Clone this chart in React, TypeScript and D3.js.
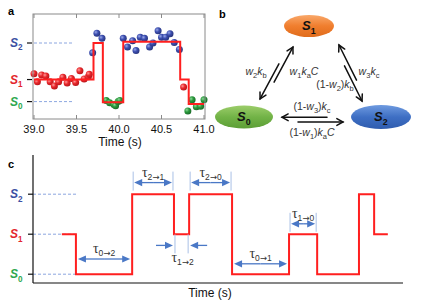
import React from 'react';
import * as d3 from 'd3';

// ---------- Panel a data ----------
const aTicks = [39.0, 39.5, 40.0, 40.5, 41.0];
const aStepT = [39.0, 39.70, 39.81, 40.05, 40.72, 40.82, 41.0];
const aStepV = [0.37, 1.0, -0.02, 1.02, 0.37, -0.05];
const aLevels = [-0.01, 0.37, 1.0]; // S0, S1, S2
const redDotT = [39.00, 39.04, 39.09, 39.14, 39.19, 39.24, 39.29, 39.34, 39.39, 39.44, 39.49, 39.54, 39.59, 39.64, 39.65, 40.76];
const redDotV = [0.47, 0.33, 0.45, 0.43, 0.33, 0.26, 0.33, 0.41, 0.31, 0.39, 0.32, 0.52, 0.38, 0.42, 0.46, 0.24];
const blueDotT = [39.69, 39.74, 39.80, 40.05, 40.10, 40.16, 40.20, 40.25, 40.30, 40.36, 40.40, 40.46, 40.50, 40.55, 40.60, 40.65, 40.71];
const blueDotV = [0.83, 1.17, 1.08, 1.08, 0.93, 1.04, 0.87, 1.10, 1.08, 0.93, 1.00, 1.21, 1.10, 1.10, 1.16, 1.01, 0.89];
const greenDotT = [39.85, 39.89, 39.94, 39.96, 39.99, 40.01, 40.81, 40.86, 40.91, 40.96, 41.00];
const greenDotV = [0.01, -0.03, -0.06, -0.08, -0.01, 0.01, -0.17, 0.02, -0.10, -0.09, 0.02];

// ---------- Panel c data ----------
const cStepT = [0.78, 1.16, 2.68, 3.81, 4.22, 5.38, 6.92, 7.68, 8.81, 9.22, 9.59];
const cStepLevel = [1, 0, 2, 1, 2, 0, 1, 0, 2, 1];
const stateNames = ['0', '1', '2'];
// dwell annotations
const tauFrom = ['0', '2', '2', '1', '0', '1'];
const tauTo = ['2', '1', '0', '2', '1', '0'];
const tauSeg = [1, 2, 4, 3, 5, 6];
const tauY = [0.38, 2.29, 2.29, 0.72, 0.26, 1.26];
const tauOutside = [false, false, false, true, false, false];
const tauBars = [false, true, true, true, false, true];

const FONT = 'Liberation Sans, Arial, sans-serif';
const C_RED = '#e3262d';
const C_BLUE = '#3c50a3';
const C_GREEN = '#2fa84f';
const stateColors = [C_GREEN, C_RED, C_BLUE];
const ARROW_BLUE = '#4a78c6';

function SLabel({ x, y, i, size = 12, color }: { x: number; y: number; i: string; size?: number; color: string }) {
  return (
    <text x={x} y={y} fontFamily={FONT} fontSize={size} fontWeight="bold" fontStyle="italic" fill={color}>
      S<tspan fontSize={size * 0.68} dy={size * 0.28} fontStyle="normal">{i}</tspan>
    </text>
  );
}

function Dots({ t, v, x, y, grad }: any) {
  return (
    <g>
      {t.map((tt: number, k: number) => (
        <circle key={k} cx={x(tt)} cy={y(v[k])} r={3.5} fill={`url(#${grad})`} />
      ))}
    </g>
  );
}

function Chevron({ x1, y1, x2, y2, len = 7, ang = 0.5, stroke = '#111', w = 1.5 }: any) {
  const a = Math.atan2(y2 - y1, x2 - x1);
  const p1 = [x2 - len * Math.cos(a - ang), y2 - len * Math.sin(a - ang)];
  const p2 = [x2 - len * Math.cos(a + ang), y2 - len * Math.sin(a + ang)];
  return (
    <g stroke={stroke} strokeWidth={w} fill="none" strokeLinecap="round" strokeLinejoin="miter">
      <line x1={x1} y1={y1} x2={x2} y2={y2} />
      <polyline points={`${p1[0]},${p1[1]} ${x2},${y2} ${p2[0]},${p2[1]}`} />
    </g>
  );
}

function ArrowPair({ p0, p1, off = 2.2, tail = 0.35 }: any) {
  const dx = p1[0] - p0[0], dy = p1[1] - p0[1];
  const L = Math.hypot(dx, dy);
  const nx = -dy / L, ny = dx / L;
  const a1s = [p0[0] + dx * tail + nx * off, p0[1] + dy * tail + ny * off];
  const a1e = [p1[0] + nx * off, p1[1] + ny * off];
  const a2s = [p1[0] - dx * tail - nx * off, p1[1] - dy * tail - ny * off];
  const a2e = [p0[0] - nx * off, p0[1] - ny * off];
  return (
    <g>
      <Chevron x1={a1s[0]} y1={a1s[1]} x2={a1e[0]} y2={a1e[1]} />
      <Chevron x1={a2s[0]} y1={a2s[1]} x2={a2e[0]} y2={a2e[1]} />
    </g>
  );
}

function Rate({ x, y, parts, anchor = 'middle' }: any) {
  return (
    <text x={x} y={y} fontFamily={FONT} fontSize={10.5} fill="#333" textAnchor={anchor}>
      {parts.map((p: any, k: number) => {
        const prevSub = k > 0 && parts[k - 1][1] === 's';
        if (p[1] === 's') return <tspan key={k} fontSize={7.5} dy={2.5} fontStyle="normal">{p[0]}</tspan>;
        return <tspan key={k} dy={prevSub ? -2.5 : 0} fontStyle={p[1] === 'i' ? 'italic' : 'normal'}>{p[0]}</tspan>;
      })}
    </text>
  );
}

function Tau({ x, y, from, to }: any) {
  return (
    <text x={x} y={y} textAnchor="middle" fill="#333">
      <tspan fontFamily="Liberation Serif, DejaVu Serif, serif" fontSize={14}>τ</tspan>
      <tspan fontFamily={FONT} fontSize={8.5} dy={3}>{from}</tspan>
      <tspan fontFamily="DejaVu Sans, sans-serif" fontSize={8.5}>→</tspan>
      <tspan fontFamily={FONT} fontSize={8.5}>{to}</tspan>
    </text>
  );
}

function BlueArrow({ x1, x2, y }: any) {
  const dir = Math.sign(x2 - x1);
  const h = 8, hw = 3.6;
  return (
    <g>
      <line x1={x1} y1={y} x2={x2 - dir * h * 0.8} y2={y} stroke={ARROW_BLUE} strokeWidth={1.3} />
      <path d={`M${x2},${y} L${x2 - dir * h},${y - hw} L${x2 - dir * h},${y + hw} Z`} fill={ARROW_BLUE} />
    </g>
  );
}

export default function App() {
  const xA = d3.scaleLinear().domain([39, 41]).range([34, 204]);
  const yA = d3.scaleLinear().domain([-0.31, 1.5]).range([119, 14]);
  const aPts: [number, number][] = aStepV.map((v, i) => [aStepT[i], v]);
  aPts.push([aStepT[aStepT.length - 1], aStepV[aStepV.length - 1]]);
  const aLine = d3.line<[number, number]>().x(d => xA(d[0])).y(d => yA(d[1])).curve(d3.curveStepAfter);

  const xC = d3.scaleLinear().domain([0, 10]).range([33, 403]);
  const yC = d3.scaleLinear().domain([-0.22, 2.98]).range([283, 155]);
  const cPts: [number, number][] = cStepLevel.map((v, i) => [cStepT[i], v]);
  cPts.push([cStepT[cStepT.length - 1], cStepLevel[cStepLevel.length - 1]]);
  const cLine = d3.line<[number, number]>().x(d => xC(d[0])).y(d => yC(d[1])).curve(d3.curveStepAfter);

  return (
    <svg width={423} height={305} style={{ position: 'absolute', left: 0, top: 0, background: '#fff' }}>
      <defs>
        <radialGradient id="gRed" cx="35%" cy="35%" r="70%">
          <stop offset="0%" stopColor="#ff9a9a" />
          <stop offset="45%" stopColor="#e8282c" />
          <stop offset="100%" stopColor="#b5151a" />
        </radialGradient>
        <radialGradient id="gBlue" cx="35%" cy="35%" r="70%">
          <stop offset="0%" stopColor="#9aa8e8" />
          <stop offset="45%" stopColor="#3d4fb0" />
          <stop offset="100%" stopColor="#26337a" />
        </radialGradient>
        <radialGradient id="gGreen" cx="35%" cy="35%" r="70%">
          <stop offset="0%" stopColor="#8fd89a" />
          <stop offset="45%" stopColor="#2a9a3c" />
          <stop offset="100%" stopColor="#1a6a28" />
        </radialGradient>
        <linearGradient id="eOrange" x1="0" y1="0" x2="0" y2="1">
          <stop offset="0%" stopColor="#f9a86a" />
          <stop offset="50%" stopColor="#f07e2e" />
          <stop offset="100%" stopColor="#e06c1c" />
        </linearGradient>
        <linearGradient id="eGreen" x1="0" y1="0" x2="0" y2="1">
          <stop offset="0%" stopColor="#9ccd6a" />
          <stop offset="50%" stopColor="#72b347" />
          <stop offset="100%" stopColor="#5c9e36" />
        </linearGradient>
        <linearGradient id="eBlue" x1="0" y1="0" x2="0" y2="1">
          <stop offset="0%" stopColor="#6f9be0" />
          <stop offset="50%" stopColor="#3e6fc4" />
          <stop offset="100%" stopColor="#2f5cae" />
        </linearGradient>
      </defs>

      {/* Panel a */}
      <text x={8} y={15} fontFamily={FONT} fontSize={11} fontWeight="bold">a</text>
      {[aLevels[0], aLevels[2]].map((lv, k) => (
        <line key={k} x1={xA(39)} x2={xA(39.46)} y1={yA(lv)} y2={yA(lv)} stroke="#6f8fd8" strokeWidth={0.8} strokeDasharray="3,2" />
      ))}
      <Dots t={redDotT} v={redDotV} x={xA} y={yA} grad="gRed" />
      <Dots t={blueDotT} v={blueDotV} x={xA} y={yA} grad="gBlue" />
      <Dots t={greenDotT} v={greenDotV} x={xA} y={yA} grad="gGreen" />
      <path d={aLine(aPts) || ''} fill="none" stroke="#ff1f1f" strokeWidth={2} />
      <rect x={33} y={14} width={172} height={105} fill="none" stroke="#8a8a8a" strokeWidth={1} />
      {aTicks.map((t, k) => (
        <g key={k}>
          <line x1={xA(t)} x2={xA(t)} y1={119} y2={115} stroke="#8a8a8a" />
          <line x1={xA(t)} x2={xA(t)} y1={14} y2={18} stroke="#8a8a8a" />
          <text x={xA(t)} y={133} textAnchor="middle" fontFamily={FONT} fontSize={11} fill="#111">{t.toFixed(1)}</text>
        </g>
      ))}
      {aLevels.map((lv, k) => (
        <g key={k}>
          <line x1={27} x2={32} y1={yA(lv)} y2={yA(lv)} stroke="#111" strokeWidth={1.2} />
          <SLabel x={10} y={yA(lv) + 4} i={stateNames[k]} color={stateColors[k]} />
        </g>
      ))}
      <text x={120} y={146} textAnchor="middle" fontFamily={FONT} fontSize={12} fill="#111">Time (s)</text>

      {/* Panel b */}
      <text x={219} y={18} fontFamily={FONT} fontSize={11} fontWeight="bold">b</text>
      <ArrowPair p0={[262, 100]} p1={[291, 46]} />
      <ArrowPair p0={[364, 100]} p1={[337, 46]} />
      <Chevron x1={327} y1={117.3} x2={282} y2={117.3} />
      <Chevron x1={298} y1={122} x2={343} y2={122} />
      <ellipse cx={309} cy={26} rx={25} ry={11} fill="url(#eOrange)" />
      <ellipse cx={244} cy={117} rx={29} ry={11.5} fill="url(#eGreen)" />
      <ellipse cx={381} cy={117} rx={30} ry={12} fill="url(#eBlue)" />
      <SLabel x={302} y={30} i="1" size={13} color="#111" />
      <SLabel x={237} y={121} i="0" size={13} color="#111" />
      <SLabel x={374} y={121} i="2" size={13} color="#111" />
      <Rate x={256} y={75} parts={[['w', 'i'], ['2', 's'], ['k', 'i'], ['b', 's']]} />
      <Rate x={304} y={75} parts={[['w', 'i'], ['1', 's'], ['k', 'i'], ['a', 's'], ['C', 'i']]} />
      <Rate x={369} y={75} parts={[['w', 'i'], ['3', 's'], ['k', 'i'], ['c', 's']]} />
      <Rate x={335} y={88} parts={[['(1-', 'n'], ['w', 'i'], ['2', 's'], [')', 'n'], ['k', 'i'], ['b', 's']]} />
      <Rate x={312} y={110} parts={[['(1-', 'n'], ['w', 'i'], ['3', 's'], [')', 'n'], ['k', 'i'], ['c', 's']]} />
      <Rate x={312} y={136} parts={[['(1-', 'n'], ['w', 'i'], ['1', 's'], [')', 'n'], ['k', 'i'], ['a', 's'], ['C', 'i']]} />

      {/* Panel c */}
      <text x={8} y={168} fontFamily={FONT} fontSize={11} fontWeight="bold">c</text>
      {[0, 1, 2].map(lv => (
        <g key={lv}>
          <line x1={xC(0)} x2={xC(1.19)} y1={yC(lv)} y2={yC(lv)} stroke="#6f8fd8" strokeWidth={0.8} strokeDasharray="3,2" />
          <line x1={28} x2={33} y1={yC(lv)} y2={yC(lv)} stroke="#111" strokeWidth={1.2} />
          <SLabel x={10} y={yC(lv) + 4} i={stateNames[lv]} color={stateColors[lv]} />
        </g>
      ))}
      <path d={cLine(cPts) || ''} fill="none" stroke="#ff1f1f" strokeWidth={2} />
      <line x1={33} x2={33} y1={155} y2={283} stroke="#111" strokeWidth={1.2} />
      <line x1={33} x2={403} y1={283} y2={283} stroke="#111" strokeWidth={1.2} />
      <text x={210} y={297} textAnchor="middle" fontFamily={FONT} fontSize={12} fill="#111">Time (s)</text>

      {tauSeg.map((seg, k) => {
        const xs = xC(cStepT[seg]);
        const xe = xC(cStepT[seg + 1]);
        const y = yC(tauY[k]);
        const xm = (xs + xe) / 2;
        return (
          <g key={k}>
            {tauBars[k] && (
              <g stroke="#a9c0e6" strokeWidth={1}>
                <line x1={xs + 1} x2={xs + 1} y1={y - 11} y2={y + 8} />
                <line x1={xe - 1} x2={xe - 1} y1={y - 11} y2={y + 8} />
              </g>
            )}
            {tauOutside[k] ? (
              <g>
                <BlueArrow x1={xs - 18} x2={xs - 1} y={y} />
                <BlueArrow x1={xe + 18} x2={xe + 1} y={y} />
                <Tau x={xm + 1} y={y + 17} from={tauFrom[k]} to={tauTo[k]} />
              </g>
            ) : (
              <g>
                <BlueArrow x1={xm} x2={xs + 2} y={y} />
                <BlueArrow x1={xm} x2={xe - 2} y={y} />
                <Tau x={xm} y={y - 6} from={tauFrom[k]} to={tauTo[k]} />
              </g>
            )}
          </g>
        );
      })}
    </svg>
  );
}
